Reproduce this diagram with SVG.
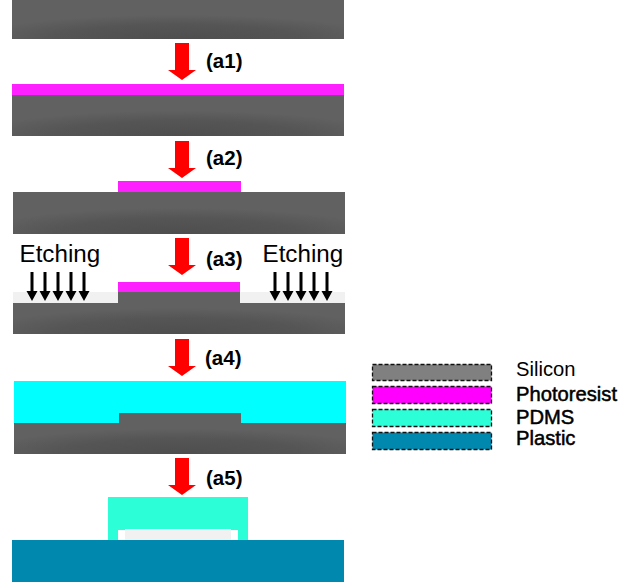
<svg xmlns="http://www.w3.org/2000/svg" width="620" height="588" viewBox="0 0 620 588">
<style>
text{font-family:"Liberation Sans",Arial,sans-serif;fill:#000}
.step{font-size:20.500px;font-weight:bold}
.etch{font-size:24.200px}
.leg{font-size:20.200px}
.legb{font-size:20.200px;stroke:#000;stroke-width:.5px}
.box{stroke:#111;stroke-width:1.3;stroke-dasharray:4 2}
.red{fill:#ff0000}
.band{fill:#f1f1f1}
</style>
<defs>
<radialGradient id="si" cx="0.5" cy="1" r="0.62">
<stop offset="0" stop-color="#4e4e4e"/><stop offset="0.6" stop-color="#555"/><stop offset="1" stop-color="#616161"/>
</radialGradient>
<path id="bigArrow" class="red" d="M-7 0H7V27H14L0 37L-14 27H-7Z"/>
<g id="etchArrows" fill="#000">
<path d="M-1.500 0H1.500V19H5.500L0 29L-5.500 19H-1.500Z"/>
<path d="M11.500 0H14.500V19H18.500L13 29L7.500 19H11.500Z"/>
<path d="M24.500 0H27.500V19H31.500L26 29L20.500 19H24.500Z"/>
<path d="M37.500 0H40.500V19H44.500L39 29L33.500 19H37.500Z"/>
<path d="M50.500 0H53.500V19H57.500L52 29L46.500 19H50.500Z"/>
</g>
</defs>
<g id="step0"><rect x="12" y="0" width="332" height="39" fill="url(#si)"/></g>
<g id="step1">
<rect x="12" y="84" width="332" height="11" fill="#ff20ff"/>
<rect x="12" y="95" width="332" height="41" fill="url(#si)"/>
</g>
<g id="step2">
<rect x="118" y="181" width="123" height="11" fill="#ff20ff"/>
<rect x="13" y="192" width="332" height="42" fill="url(#si)"/>
</g>
<g id="step3">
<rect x="13" y="292" width="105" height="11" class="band"/>
<rect x="240" y="292" width="105" height="11" class="band"/>
<path d="M13 303H118V292H240V303H345V334H13Z" fill="url(#si)"/>
<rect x="118" y="282" width="122" height="10" fill="#ff20ff"/>
</g>
<g id="step4">
<rect x="14" y="381" width="332" height="42" fill="#00ffff"/>
<path d="M14 423H119V413H241V423H346V454H14Z" fill="url(#si)"/>
</g>
<g id="step5">
<path d="M108 497H248V540H238V530H118V540H108Z" fill="#2cffd8"/>
<rect x="125" y="529" width="106" height="11" class="band"/>
<rect x="12" y="540" width="332" height="42" fill="#0088ae"/>
</g>
<g id="connectors">
<use href="#bigArrow" x="182" y="43"/>
<use href="#bigArrow" x="182" y="141"/>
<use href="#bigArrow" x="182" y="238"/>
<use href="#bigArrow" x="182" y="339"/>
<use href="#bigArrow" x="182" y="458"/>
<use href="#etchArrows" x="32" y="272"/>
<use href="#etchArrows" x="275" y="272"/>
</g>
<g id="labels">
<text class="step" x="206" y="68">(a1)</text>
<text class="step" x="206" y="165">(a2)</text>
<text class="step" x="206" y="266">(a3)</text>
<text class="step" x="205" y="365">(a4)</text>
<text class="step" x="206" y="485">(a5)</text>
<text class="etch" x="19.500" y="262">Etching</text>
<text class="etch" x="262.500" y="262">Etching</text>
</g>
<g id="legend-silicon"><rect class="box" x="372.500" y="364.500" width="119" height="16" fill="#808080"/><text class="leg" x="516" y="376">Silicon</text></g>
<g id="legend-photoresist"><rect class="box" x="372.500" y="386.500" width="119" height="17" fill="#ff00ff"/><text class="legb" x="516" y="401">Photoresist</text></g>
<g id="legend-pdms"><rect class="box" x="372.500" y="409.500" width="119" height="17" fill="#2cffd8"/><text class="legb" x="516" y="424">PDMS</text></g>
<g id="legend-plastic"><rect class="box" x="372.500" y="432.500" width="119" height="17" fill="#0088ae"/><text class="legb" x="516" y="445">Plastic</text></g>
</svg>
